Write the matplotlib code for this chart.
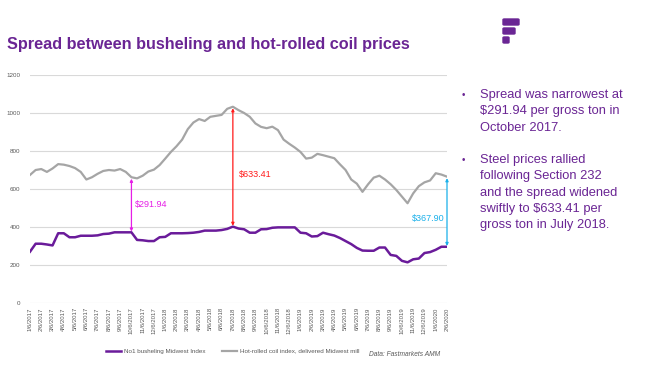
import matplotlib
matplotlib.use("Agg")
from matplotlib import pyplot as plt
from matplotlib.patches import FancyBboxPatch
import numpy as np

plt.rcParams['font.family'] = ['Liberation Sans', 'DejaVu Sans']

# half-month steps, Jan 2017 .. Feb 2020 (month index 0..37)
t = np.arange(75) / 2.0

busheling = [270, 312, 312, 308, 303, 367, 367, 346, 346, 354,
             354, 354, 356, 363, 365, 372, 372, 372, 372, 332,
             330, 326, 326, 346, 348, 367, 367, 367, 368, 370,
             374, 381, 381, 381, 384, 390, 402, 392, 388, 370,
             370, 388, 389, 396, 398, 398, 398, 398, 370, 367,
             350, 352, 370, 362, 355, 342, 326, 310, 290, 276,
             275, 275, 292, 292, 253, 248, 222, 214, 230, 234,
             263, 268, 280, 296, 296]

hrc = [674, 700, 705, 690, 708, 731, 728, 721, 710, 690,
       650, 662, 680, 695, 700, 697, 705, 690, 662, 656,
       670, 692, 702, 726, 760, 795, 825, 860, 915, 950,
       968, 958, 980, 985, 990, 1022, 1033, 1015, 1000, 980,
       945, 927, 920, 928, 910, 860, 838, 818, 795, 760,
       765, 785, 778, 770, 762, 730, 700, 650, 628, 585,
       625, 660, 670, 650, 625, 595, 560, 525, 577, 615,
       635, 645, 683, 676, 665]

tick_labels = ['1/6/2017', '2/6/2017', '3/6/2017', '4/6/2017', '5/6/2017', '6/6/2017',
               '7/6/2017', '8/6/2017', '9/6/2017', '10/6/2017', '11/6/2017', '12/6/2017',
               '1/6/2018', '2/6/2018', '3/6/2018', '4/6/2018', '5/6/2018', '6/6/2018',
               '7/6/2018', '8/6/2018', '9/6/2018', '10/6/2018', '11/6/2018', '12/6/2018',
               '1/6/2019', '2/6/2019', '3/6/2019', '4/6/2019', '5/6/2019', '6/6/2019',
               '7/6/2019', '8/6/2019', '9/6/2019', '10/6/2019', '11/6/2019', '12/6/2019',
               '1/6/2020', '2/6/2020']

# spread callouts: (index into series, label, colour)
spreads = [(18, '$291.94', '#E61EE6'),
           (36, '$633.41', '#FF1A1A'),
           (74, '$367.90', '#1AB0EA')]

purple = '#6A2594'

fig = plt.figure(figsize=(6.5, 3.71), dpi=100)
ax = fig.add_axes([30/650, 68/371, 417/650, 228/371])

ax.plot(t, hrc, color='#A5A5A5', lw=1.6, label='Hot-rolled coil index, delivered Midwest mill')
ax.plot(t, busheling, color='#6A1B9A', lw=1.8, label='No1 busheling Midwest Index')

ax.set_xlim(0, 37)
ax.set_ylim(0, 1200)
ax.set_yticks(range(0, 1201, 200))
ax.set_xticks(range(len(tick_labels)))
ax.set_xticklabels(tick_labels, rotation=90, fontsize=4.3, color='#595959')
ax.tick_params(axis='y', labelsize=4.5, labelcolor='#595959', length=0, pad=7)
ax.tick_params(axis='x', length=0, pad=3)
ax.grid(axis='y', color='#D9D9D9', lw=0.8)
ax.set_axisbelow(True)
for s in ax.spines.values():
    s.set_visible(False)

for i, lab, col in spreads:
    ax.annotate('', xy=(t[i], hrc[i] - 8), xytext=(t[i], busheling[i] + 4),
                arrowprops=dict(arrowstyle='<|-|>', color=col, lw=0.9,
                                mutation_scale=4, shrinkA=0, shrinkB=0))
    mid = (hrc[i] + busheling[i]) / 2
    if i == 74:
        ax.text(t[i] - 0.2, mid - 35, lab, color=col, fontsize=6.5, ha='right', va='center')
    elif i == 36:
        ax.text(t[i] + 0.5, mid - 43, lab, color=col, fontsize=6.5, ha='left', va='center')
    else:
        ax.text(t[i] + 0.3, mid, lab, color=col, fontsize=6.5, ha='left', va='center')

# legend
h, l = ax.get_legend_handles_labels()
fig.legend(h[::-1], l[::-1], loc='center left', bbox_to_anchor=(100/650, 1 - 351/371), ncol=2,
           frameon=False, fontsize=4.5, handlelength=2.4, columnspacing=2.6,
           labelcolor='#595959', handletextpad=0.5)
fig.text(440/650, 1 - 355/371, 'Data: Fastmarkets AMM', fontsize=4.8, style='italic',
         color='#595959', ha='right', va='center')

# title
fig.text(7/650, 1 - 45/371, 'Spread between busheling and hot-rolled coil prices',
         fontsize=11.7, fontweight='bold', color=purple, va='center', ha='left')

# logo
for (x0, y0, w) in [(503, 19, 16), (503, 28, 12), (503, 37, 6)]:
    fig.patches.append(FancyBboxPatch((x0/650, 1 - (y0 + 6)/371), w/650, 6/371,
                                      boxstyle='round,pad=0,rounding_size=0.002',
                                      transform=fig.transFigure, color=purple))

# bullet text
bullets = [(95, ['Spread was narrowest at', '$291.94 per gross ton in', 'October 2017.']),
           (160, ['Steel prices rallied', 'following Section 232', 'and the spread widened',
                  'swiftly to $633.41 per', 'gross ton in July 2018.'])]
for y0, lines in bullets:
    fig.text(462/650, 1 - y0/371, '\u2022', fontsize=7, color=purple, va='center')
    for k, line in enumerate(lines):
        fig.text(480/650, 1 - (y0 + k*16.3)/371, line, fontsize=9.3, color=purple, va='center')

fig.savefig('out.png', dpi=100)
